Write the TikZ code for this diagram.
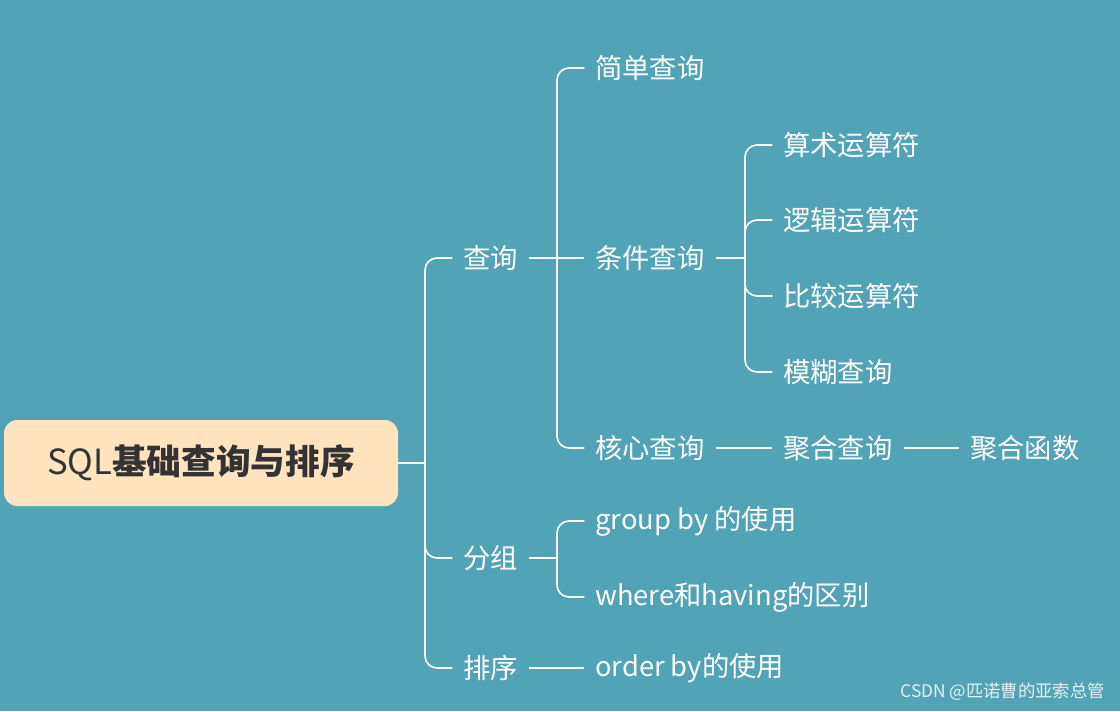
\documentclass[tikz,border=0pt]{standalone}
\usepackage{fontspec}
\setmainfont{Noto Sans CJK SC}
\definecolor{bg}{HTML}{52A3B5}
\definecolor{rootfill}{HTML}{FFE4BF}
\definecolor{roottext}{HTML}{333333}
\begin{document}
\begin{tikzpicture}[x=0.75pt,y=-0.75pt,
  lab/.style={anchor=west,inner sep=0pt,text=white,font=\fontsize{20.5}{24}\selectfont},
  conn/.style={draw=white,line width=1.2pt,rounded corners=9pt}]
\fill[bg] (0,0) rectangle (1120,711);
\useasboundingbox (0,0) rectangle (1120,711);
\node[fill=rootfill,rounded corners=10pt,minimum width=394*0.75pt,minimum height=86*0.75pt,inner sep=0pt,text=roottext,font=\fontsize{26}{30}\selectfont] (root) at (201,463) {SQL\textbf{基础查询与排序}};
\node[lab] (cx) at (463,258) {查询};
\node[lab] (fz) at (463,558) {分组};
\node[lab] (px) at (463,668) {排序};
\node[lab] (jd) at (595,68) {简单查询};
\node[lab] (tj) at (595,258) {条件查询};
\node[lab] (hx) at (595,448) {核心查询};
\node[lab] (ss) at (783,145) {算术运算符};
\node[lab] (lj) at (783,220) {逻辑运算符};
\node[lab] (bj) at (783,296) {比较运算符};
\node[lab] (mh) at (783,372) {模糊查询};
\node[lab] (jh) at (783,448) {聚合查询};
\node[lab] (hs) at (970,448) {聚合函数};
\node[lab] (gb) at (595,521) {group by 的使用};
\node[lab] (wh) at (595,597) {where和having的区别};
\node[lab] (ob) at (595,668) {order by的使用};
\node[anchor=east,inner sep=0pt,text=white!85!bg,font=\fontsize{13}{15}\selectfont] (wm) at (1105,692) {CSDN @匹诺曹的亚索总管};
% root
\draw[conn] (root.east) -- (425,463);
\foreach \c in {cx,fz,px}
  \draw[conn] (425,463) |- ([xshift=-8pt]\c.west);
\draw[conn] ([xshift=8pt]cx.east) -- ([xshift=-8pt]tj.west);
\foreach \c in {jd,hx}
  \draw[conn] (557,258) |- ([xshift=-8pt]\c.west);
\draw[conn] ([xshift=8pt]tj.east) -- (745,258);
\foreach \c in {ss,lj,bj,mh}
  \draw[conn] (745,258) |- ([xshift=-8pt]\c.west);
\draw[conn] ([xshift=8pt]fz.east) -- (557,558);
\foreach \c in {gb,wh}
  \draw[conn] (557,558) |- ([xshift=-8pt]\c.west);
\draw[conn] ([xshift=8pt]px.east) -- ([xshift=-8pt]ob.west);
\draw[conn] ([xshift=8pt]hx.east) -- ([xshift=-8pt]jh.west);
\draw[conn] ([xshift=8pt]jh.east) -- ([xshift=-8pt]hs.west);
\end{tikzpicture}
\end{document}
